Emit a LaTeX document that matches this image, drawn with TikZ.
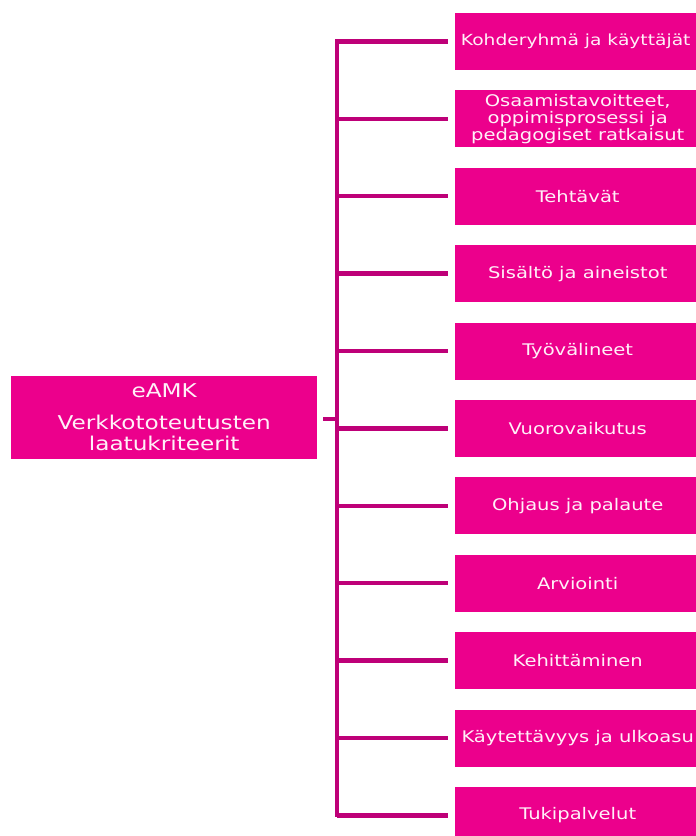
\documentclass[tikz,border=0pt]{standalone}
\usepackage{fontspec}
\setmainfont{DejaVu Sans}[FakeStretch=1.22]
\definecolor{boxfill}{HTML}{EC008C}
\definecolor{linecol}{HTML}{BE0078}
\definecolor{txtcol}{HTML}{FFF0F8}
\begin{document}
\begin{tikzpicture}[x=1pt,y=-1pt,
  catbox/.style={fill=boxfill, draw=none, minimum width=245pt, minimum height=57pt,
    anchor=north west, inner sep=0pt, text=txtcol, align=center,
    font=\fontsize{16}{17}\selectfont},
  mainbox/.style={fill=boxfill, draw=none, minimum width=306pt, minimum height=83pt,
    anchor=north west, inner sep=0pt, text=txtcol, align=center,
    font=\fontsize{19}{21}\selectfont},
  conn/.style={draw=linecol, line width=4.5pt}]
\useasboundingbox (0,0) rectangle (696,836);
\node[mainbox] (main) at (11,376) {eAMK\\[11pt]Verkkototeutusten\\laatukriteerit};
\node[catbox, minimum width=241pt, font=\fontsize{15.3}{17}\selectfont] (b1) at (455,12.7) {Kohderyhmä ja käyttäjät};
\node[catbox] (b2) at (455,90.1) {Osaamistavoitteet,\\oppimisprosessi ja\\pedagogiset ratkaisut};
\node[catbox] (b3) at (455,167.5) {Tehtävät};
\node[catbox] (b4) at (455,244.9) {Sisältö ja aineistot};
\node[catbox] (b5) at (455,322.3) {Työvälineet};
\node[catbox] (b6) at (455,399.7) {Vuorovaikutus};
\node[catbox] (b7) at (455,477.1) {Ohjaus ja palaute};
\node[catbox] (b8) at (455,554.5) {Arviointi};
\node[catbox] (b9) at (455,631.9) {Kehittäminen};
\node[catbox] (b10) at (455,709.3) {Käytettävyys ja ulkoasu};
\node[catbox] (b11) at (455,786.7) {Tukipalvelut};
\coordinate (ttop) at (337,41.2);
\coordinate (tbot) at (337,815.2);
\coordinate (tmid) at (337,419);
\draw[conn, line cap=rect] (ttop) -- (tbot);
\foreach \i in {1,...,11}{
  \draw[conn, shorten >=7pt] (ttop |- b\i.west) -- (b\i.west);
}
\draw[conn, shorten <=6pt] (main.east |- tmid) -- (tmid);
\end{tikzpicture}
\end{document}
